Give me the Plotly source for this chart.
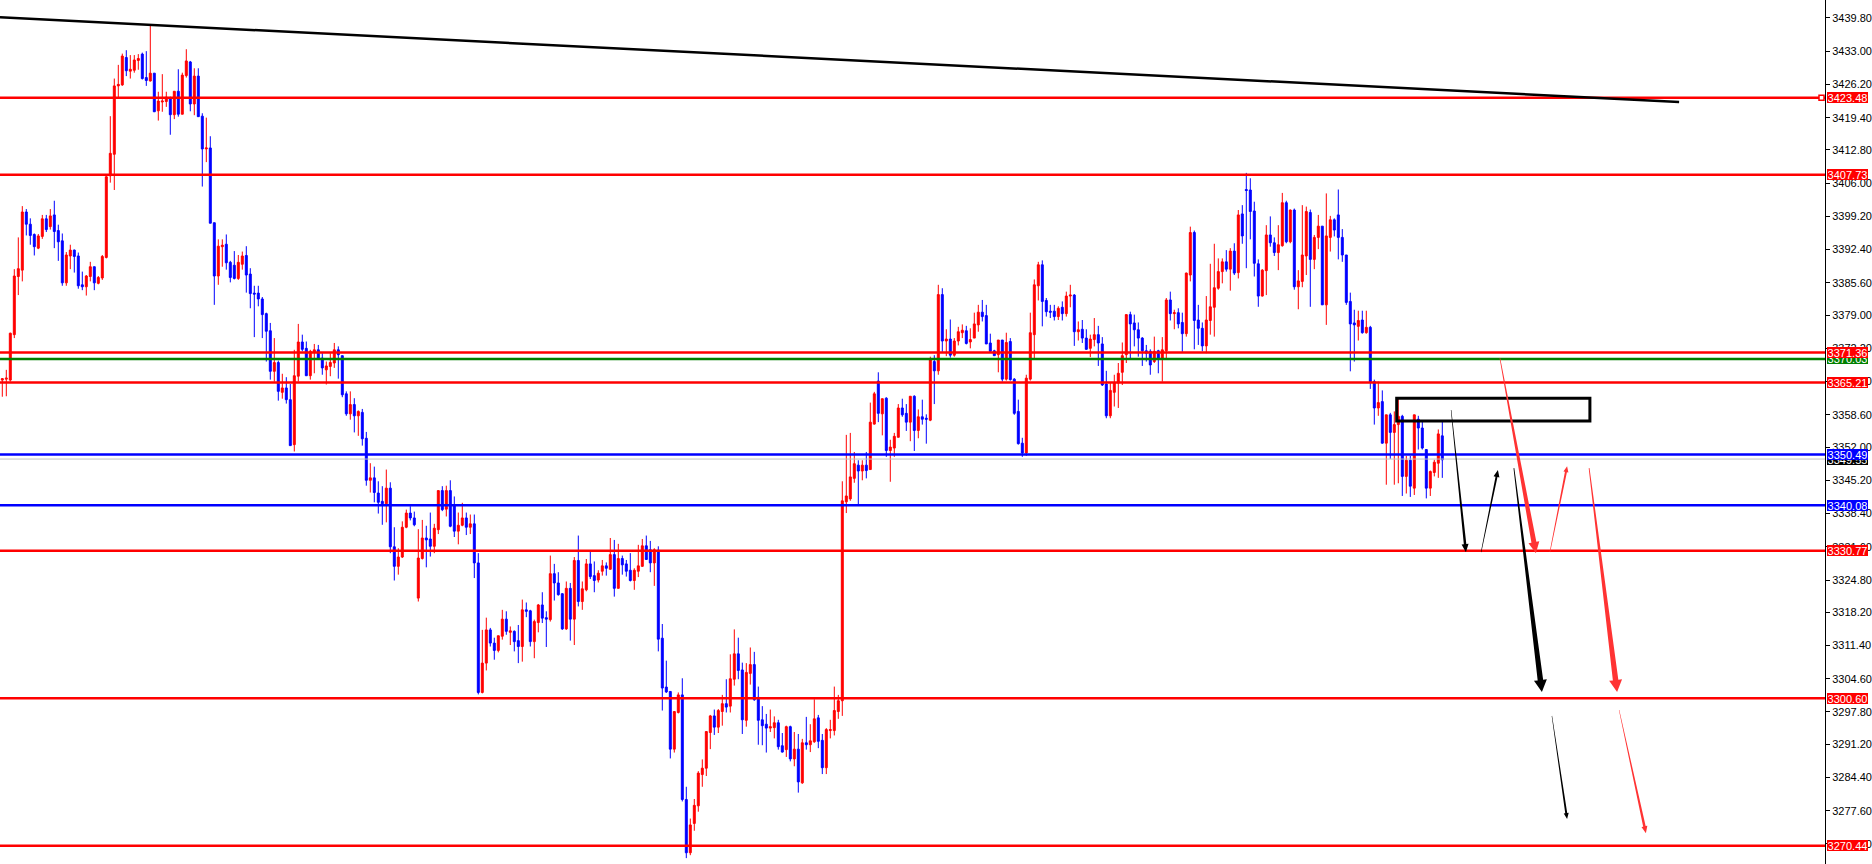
import math
import plotly.graph_objects as go

# ---------------- data ----------------
opens = [
3365.7,3365.9,3365.7,3375.0,3386.9,3388.2,3400.1,3397.6,3395.5,3392.7,
3395.1,3398.7,3397.1,3399.5,3396.3,3394.2,3385.6,3391.1,3392.3,3391.1,
3385.2,3384.8,3386.9,3388.9,3385.5,3386.6,3390.8,3407.5,3411.9,3425.9,
3426.1,3431.7,3428.9,3429.1,3431.1,3432.4,3427.6,3426.9,3428.5,3420.8,
3422.6,3422.7,3423.5,3420.0,3424.8,3420.1,3428.0,3430.8,3422.2,3427.9,
3419.7,3413.0,3413.2,3397.9,3387.0,3393.0,3393.5,3389.8,3389.2,3386.5,
3389.4,3391.2,3387.4,3383.5,3383.5,3382.3,3379.3,3375.8,3367.5,3369.3,
3363.2,3364.1,3361.7,3352.5,3366.5,3373.5,3372.2,3366.6,3371.4,3371.9,
3370.2,3367.8,3368.5,3369.2,3371.9,3370.7,3362.9,3358.8,3360.7,3358.4,
3359.1,3353.8,3345.2,3345.7,3342.6,3340.9,3340.4,3343.6,3331.6,3327.6,
3329.5,3335.6,3338.5,3337.5,3321.1,3329.2,3333.4,3333.2,3331.7,3335.1,
3343.1,3339.3,3343.1,3340.0,3334.8,3336.0,3337.5,3335.6,3336.3,3328.3,
3301.8,3307.8,3314.6,3311.9,3310.4,3313.3,3316.8,3314.1,3314.3,3312.4,
3311.2,3318.7,3318.5,3312.2,3316.1,3319.7,3317.1,3316.7,3326.1,3324.2,
3322.0,3314.8,3323.1,3316.8,3328.8,3320.4,3322.8,3328.1,3325.7,3324.8,
3326.6,3327.7,3327.0,3330.0,3323.1,3329.2,3328.1,3326.8,3324.7,3326.6,
3327.6,3331.8,3331.0,3328.3,3330.9,3312.9,3302.9,3302.0,3290.2,3297.7,
3301.3,3279.9,3269.0,3275.0,3278.6,3285.0,3286.3,3293.6,3297.0,3294.7,
3297.9,3299.5,3299.0,3304.5,3309.7,3306.4,3296.1,3305.7,3307.5,3300.8,
3296.2,3295.3,3294.5,3294.6,3295.6,3290.9,3290.1,3294.8,3288.2,3290.2,
3283.3,3291.5,3291.1,3291.7,3296.6,3292.0,3286.4,3294.0,3294.0,3297.9,
3300.1,3340.8,3341.4,3345.6,3348.3,3347.1,3348.3,3347.4,3356.7,3365.5,
3358.8,3362.0,3351.3,3351.8,3354.0,3360.0,3358.9,3357.1,3362.4,3355.4,
3358.2,3357.9,3357.5,3369.5,3367.6,3383.2,3373.7,3374.1,3370.8,3373.7,
3375.4,3375.8,3373.5,3374.3,3377.0,3379.6,3378.9,3373.3,3371.7,3370.9,
3373.9,3365.9,3373.6,3365.9,3359.3,3352.8,3350.8,3365.9,3375.0,3385.0,
3389.3,3382.0,3379.8,3379.8,3378.7,3380.6,3379.3,3382.9,3383.1,3375.6,
3376.1,3374.3,3372.2,3374.0,3375.0,3373.1,3364.9,3358.4,3363.2,3365.1,
3367.3,3370.9,3379.1,3377.4,3376.0,3374.3,3371.7,3371.6,3369.5,3371.7,
3370.2,3371.7,3382.1,3379.3,3379.5,3377.5,3375.2,3387.2,3395.9,3378.0,
3376.3,3372.7,3377.9,3380.6,3384.5,3387.9,3389.9,3388.4,3392.1,3387.7,
3399.7,3404.7,3404.6,3400.3,3389.5,3382.9,3388.1,3395.4,3393.8,3391.8,
3393.2,3402.0,3394.0,3400.5,3384.8,3385.9,3391.1,3400.0,3390.4,3394.9,
3397.2,3381.1,3394.9,3398.5,3399.5,3394.9,3391.3,3381.8,3377.4,3376.7,
3378.0,3375.4,3376.5,3365.4,3360.0,3361.3,3352.8,3358.6,3355.0,3356.6,
3358.3,3346.0,3349.3,3343.6,3357.7,3355.9,3351.5,3343.6,3346.8,3348.7,
3354.3]

highs = [
3366.1,3367.8,3375.4,3388.4,3394.9,3401.3,3400.7,3398.8,3395.7,3395.6,
3399.5,3399.5,3400.7,3402.4,3397.5,3395.7,3391.9,3393.4,3392.4,3391.8,
3387.9,3387.2,3389.9,3388.9,3387.0,3391.3,3407.5,3419.7,3427.4,3430.2,
3432.5,3433.2,3432.2,3432.2,3432.4,3432.7,3433.0,3438.2,3428.5,3424.7,
3428.3,3424.7,3423.7,3424.8,3429.3,3428.6,3433.4,3431.0,3429.5,3429.5,
3420.3,3419.4,3415.6,3397.9,3394.5,3394.5,3395.5,3390.1,3392.1,3391.3,
3392.0,3393.1,3388.6,3385.0,3385.0,3382.7,3379.5,3377.4,3374.3,3369.7,
3367.0,3366.3,3364.9,3371.9,3377.2,3375.0,3373.6,3371.9,3373.1,3372.9,
3371.2,3369.5,3371.2,3373.3,3372.6,3370.7,3363.4,3363.4,3362.0,3359.5,
3359.8,3355.1,3348.7,3348.0,3345.0,3344.0,3347.4,3344.8,3335.6,3331.3,
3336.8,3339.2,3339.9,3338.8,3335.2,3337.1,3335.9,3338.6,3336.3,3343.1,
3344.0,3344.1,3345.2,3341.9,3338.6,3340.6,3338.6,3338.2,3338.2,3330.3,
3314.6,3317.1,3315.0,3313.0,3313.4,3318.7,3318.4,3315.3,3314.5,3315.6,
3320.8,3320.2,3318.7,3316.7,3319.9,3322.3,3318.4,3329.8,3328.1,3326.4,
3322.1,3324.5,3324.2,3329.5,3333.9,3324.5,3329.1,3330.7,3328.6,3326.8,
3328.9,3328.4,3333.4,3333.0,3332.2,3329.8,3328.9,3330.3,3327.2,3332.0,
3333.2,3333.9,3332.8,3331.3,3331.7,3315.8,3308.3,3302.0,3297.9,3301.8,
3304.7,3282.5,3276.0,3280.0,3285.7,3288.1,3293.8,3297.2,3298.3,3298.4,
3301.3,3304.5,3309.6,3314.7,3313.0,3307.9,3307.8,3311.0,3310.1,3303.0,
3299.0,3297.4,3298.3,3296.9,3296.2,3293.5,3295.0,3295.0,3293.7,3293.3,
3292.3,3296.8,3295.3,3300.4,3297.2,3293.3,3294.5,3296.2,3303.0,3301.3,
3345.0,3354.5,3354.9,3351.0,3349.3,3349.3,3351.0,3361.1,3363.3,3367.3,
3361.9,3362.2,3353.5,3354.9,3360.8,3361.9,3360.8,3362.4,3362.6,3359.7,
3361.7,3358.7,3370.5,3370.8,3385.2,3384.5,3376.1,3378.1,3374.3,3376.6,
3377.1,3376.8,3376.3,3379.5,3381.1,3382.1,3381.1,3375.2,3371.9,3373.9,
3373.9,3375.4,3374.3,3366.1,3361.7,3353.9,3366.8,3379.5,3386.3,3389.9,
3390.2,3382.5,3381.1,3381.1,3380.8,3381.8,3383.8,3385.2,3383.3,3377.7,
3378.0,3376.1,3375.0,3378.4,3376.8,3374.5,3367.6,3365.1,3366.8,3369.2,
3373.4,3379.1,3379.7,3379.1,3377.5,3374.5,3372.9,3372.0,3374.6,3371.9,
3374.5,3382.5,3383.8,3380.1,3380.4,3379.5,3387.7,3397.1,3396.3,3381.1,
3377.5,3382.9,3389.5,3393.6,3390.6,3390.6,3392.3,3392.7,3393.7,3400.5,
3401.5,3408.1,3407.0,3402.2,3390.4,3388.4,3397.4,3399.2,3394.9,3397.4,
3404.0,3402.4,3400.6,3400.8,3388.2,3401.5,3401.2,3400.6,3395.4,3399.5,
3397.2,3403.9,3399.3,3398.8,3404.7,3396.6,3391.3,3383.6,3380.1,3379.9,
3379.9,3379.9,3376.8,3365.8,3365.4,3363.6,3358.6,3359.0,3359.3,3362.0,
3358.6,3350.2,3350.2,3358.6,3358.4,3357.3,3351.6,3347.2,3349.4,3355.6,
3357.3]

lows = [
3362.3,3362.4,3365.4,3374.3,3383.1,3385.9,3395.3,3393.4,3391.2,3392.5,
3394.6,3396.0,3396.5,3392.7,3390.1,3385.0,3385.0,3388.4,3387.7,3384.4,
3384.1,3383.0,3385.9,3384.1,3385.3,3386.2,3390.6,3406.1,3404.6,3423.5,
3425.9,3427.9,3427.4,3428.6,3429.2,3427.2,3425.9,3426.8,3420.6,3418.8,
3420.6,3421.6,3415.9,3419.1,3419.6,3420.1,3427.6,3420.7,3419.9,3419.6,
3405.3,3410.3,3397.8,3381.1,3385.2,3388.9,3388.3,3385.7,3386.3,3386.2,
3388.3,3383.6,3380.4,3374.5,3380.8,3374.3,3369.5,3365.8,3365.4,3361.5,
3361.9,3360.9,3352.3,3351.1,3365.4,3371.6,3366.6,3365.8,3367.1,3369.9,
3366.8,3364.8,3366.5,3368.2,3366.0,3362.2,3358.4,3357.6,3355.0,3354.3,
3352.3,3344.1,3342.7,3340.7,3338.4,3336.1,3336.6,3330.3,3324.7,3325.9,
3329.3,3335.4,3337.0,3335.8,3320.4,3329.0,3327.4,3329.6,3330.3,3334.2,
3338.9,3337.8,3335.6,3333.6,3332.1,3335.8,3334.0,3334.2,3325.2,3301.4,
3301.6,3306.3,3311.2,3308.5,3310.0,3312.6,3313.6,3311.5,3310.2,3307.8,
3308.1,3317.2,3311.2,3308.8,3314.1,3316.0,3311.1,3316.3,3320.6,3321.6,
3314.6,3314.6,3312.4,3311.5,3319.4,3318.7,3322.5,3325.0,3322.3,3324.3,
3325.7,3325.7,3326.9,3321.4,3323.1,3325.9,3325.5,3324.5,3322.8,3325.4,
3327.5,3329.0,3326.4,3323.6,3310.2,3298.1,3301.7,3288.3,3289.5,3297.5,
3279.5,3267.9,3268.5,3273.5,3277.4,3282.5,3284.7,3290.2,3293.1,3293.5,
3295.0,3297.7,3297.7,3303.2,3304.5,3293.3,3294.8,3303.4,3300.1,3291.1,
3291.0,3289.5,3293.7,3292.4,3290.1,3289.5,3288.6,3287.7,3286.7,3281.3,
3283.1,3290.1,3289.6,3291.5,3290.4,3285.1,3285.1,3292.4,3293.0,3296.4,
3297.0,3338.5,3341.0,3344.7,3340.1,3345.2,3345.6,3347.4,3356.6,3357.1,
3354.4,3350.0,3344.9,3350.0,3354.0,3358.2,3355.3,3353.2,3351.2,3353.8,
3356.6,3352.7,3357.3,3360.8,3366.8,3371.5,3370.6,3370.3,3370.5,3372.8,
3374.3,3373.0,3372.2,3374.3,3375.6,3377.7,3373.1,3371.4,3370.7,3367.3,
3365.4,3365.6,3365.6,3358.6,3352.5,3350.0,3350.2,3365.6,3370.0,3382.0,
3376.7,3378.7,3378.4,3377.9,3378.0,3377.9,3378.7,3380.6,3372.7,3373.8,
3373.3,3371.9,3370.4,3372.6,3368.6,3364.5,3357.9,3357.9,3360.3,3360.0,
3364.7,3369.2,3370.2,3372.6,3370.5,3368.6,3369.5,3366.8,3369.2,3367.1,
3365.4,3370.0,3377.9,3376.1,3376.3,3371.5,3374.6,3385.9,3372.0,3372.9,
3371.6,3371.2,3375.0,3374.6,3384.2,3385.5,3387.9,3384.0,3387.2,3386.5,
3393.6,3388.6,3394.5,3386.9,3380.7,3382.8,3383.1,3393.0,3391.1,3388.2,
3393.0,3393.7,3393.7,3384.2,3380.2,3384.7,3387.2,3380.7,3388.4,3392.5,
3381.1,3377.0,3392.0,3395.1,3390.4,3389.9,3381.1,3367.5,3369.5,3373.8,
3375.2,3375.2,3363.9,3356.6,3358.4,3352.7,3344.3,3349.6,3344.3,3344.6,
3342.0,3342.5,3341.8,3342.2,3351.5,3351.5,3341.5,3342.0,3346.0,3345.7,
3345.7]

closes = [
3366.0,3366.1,3375.3,3387.0,3388.5,3400.1,3397.6,3395.3,3393.0,3395.2,
3398.7,3396.5,3399.3,3396.1,3394.0,3385.6,3391.3,3392.3,3391.0,3385.0,
3384.8,3387.0,3388.9,3385.6,3386.7,3391.0,3407.3,3412.1,3425.9,3426.2,
3432.0,3429.0,3429.3,3431.2,3431.5,3427.4,3427.0,3428.5,3420.6,3422.8,
3422.8,3423.6,3420.0,3424.8,3420.1,3428.1,3431.0,3422.2,3427.9,3419.6,
3413.0,3413.2,3397.8,3387.0,3393.1,3393.3,3389.7,3386.7,3386.5,3389.8,
3391.1,3387.2,3383.4,3383.3,3382.3,3379.1,3375.7,3367.5,3369.3,3363.4,
3364.1,3361.7,3352.3,3366.6,3373.5,3372.0,3366.6,3371.6,3371.9,3370.0,
3368.2,3368.6,3369.3,3371.9,3370.9,3362.7,3358.8,3360.7,3358.4,3359.3,
3353.7,3345.2,3345.7,3342.7,3340.7,3340.4,3343.6,3331.6,3327.6,3329.5,
3335.6,3338.5,3337.5,3336.1,3329.3,3333.4,3333.0,3331.7,3335.4,3343.1,
3339.2,3343.1,3335.8,3334.8,3336.0,3337.5,3335.6,3336.3,3328.3,3301.8,
3307.8,3314.6,3311.9,3310.4,3313.4,3316.8,3314.3,3314.4,3312.2,3311.2,
3318.7,3318.4,3312.2,3316.3,3319.7,3317.0,3316.8,3326.1,3324.2,3321.8,
3314.8,3323.1,3316.8,3328.8,3320.4,3323.0,3328.1,3325.5,3324.7,3326.2,
3327.7,3327.2,3330.0,3323.1,3329.2,3327.9,3326.6,3324.7,3326.8,3327.7,
3331.8,3329.0,3328.3,3331.0,3312.7,3302.7,3301.9,3290.2,3297.9,3301.3,
3279.9,3269.0,3274.7,3278.7,3285.3,3286.3,3293.8,3297.0,3294.7,3298.1,
3299.5,3298.8,3304.6,3309.7,3306.3,3296.2,3305.9,3307.5,3300.3,3296.1,
3295.0,3294.5,3294.8,3295.6,3290.7,3289.6,3294.8,3288.2,3290.2,3283.5,
3291.5,3291.1,3291.9,3296.4,3291.8,3286.4,3294.2,3294.2,3298.1,3300.1,
3341.0,3342.0,3345.9,3348.6,3347.1,3348.3,3347.2,3357.1,3362.9,3358.9,
3361.9,3351.3,3352.0,3354.2,3360.0,3358.6,3357.1,3362.4,3355.4,3358.2,
3357.7,3357.7,3369.9,3367.6,3383.2,3373.7,3374.1,3370.8,3373.7,3375.6,
3375.9,3373.2,3374.0,3377.2,3379.6,3378.7,3373.1,3371.6,3370.7,3373.9,
3365.9,3373.4,3365.8,3358.9,3352.7,3350.8,3366.1,3375.4,3385.2,3389.3,
3381.8,3379.7,3379.6,3378.7,3380.4,3379.3,3382.9,3383.1,3375.6,3376.0,
3374.3,3372.0,3374.1,3375.0,3373.3,3364.7,3358.4,3363.6,3365.2,3367.1,
3370.7,3379.1,3377.2,3376.0,3374.3,3371.7,3371.2,3368.8,3371.6,3370.2,
3371.9,3382.1,3379.3,3379.5,3377.2,3375.2,3387.6,3395.9,3377.9,3376.3,
3372.7,3378.0,3380.7,3384.6,3387.9,3389.9,3388.4,3392.1,3387.6,3399.5,
3395.2,3404.5,3400.2,3389.6,3382.9,3388.2,3395.4,3393.8,3391.8,3393.4,
3402.0,3394.0,3400.5,3384.8,3386.0,3391.3,3400.2,3390.4,3394.9,3397.2,
3381.1,3395.2,3398.5,3396.4,3394.9,3391.3,3381.6,3377.2,3377.0,3377.9,
3375.4,3376.5,3365.4,3360.0,3361.1,3352.8,3358.6,3355.0,3356.6,3358.3,
3346.0,3349.3,3344.0,3358.6,3355.9,3351.8,3343.6,3347.0,3348.9,3354.7,
3349.4]

bar_index = list(range(len(opens)))

# horizontal price levels (drawn in this order; later ones on top)
level_prices = [3423.48, 3407.73, 3370.03, 3371.36, 3365.21, 3349.55, 3350.49, 3340.08, 3330.77, 3300.60, 3270.44]
level_colors = ["#ff0000", "#ff0000", "#008000", "#ff0000", "#ff0000", "#000000", "#0000ff", "#0000ff", "#ff0000", "#ff0000", "#ff0000"]
level_line_colors = ["#ff0000", "#ff0000", "#008000", "#ff0000", "#ff0000", "#c0c0c0", "#0000ff", "#0000ff", "#ff0000", "#ff0000", "#ff0000"]
level_widths = [2.5, 2.5, 2.5, 2.5, 2.5, 1, 2.5, 2.5, 2.5, 2.5, 2.5]

tick_values = [3439.80, 3433.00, 3426.20, 3419.40, 3412.80, 3406.00, 3399.20, 3392.40, 3385.60,
               3379.00, 3372.20, 3365.40, 3358.60, 3352.00, 3345.20, 3338.40, 3331.60, 3324.80,
               3318.20, 3311.40, 3304.60, 3297.80, 3291.20, 3284.40, 3277.60, 3270.80]
tick_labels = [f"{v:.2f}" for v in tick_values]

# trend line (bar index, price)
trend_x = [-0.575, 419.2]
trend_y = [3439.93, 3422.60]

# box drawn around the recent range
box_x = [348.6, 396.9]
box_y = [3357.33, 3361.98]

# projection arrows: start / tip in (bar index, price), colour, widths in px
arrow_start_x = [362.2, 369.7, 374.4, 386.9, 377.9, 396.7, 387.4, 404.2]
arrow_start_y = [3359.6, 3330.5, 3370.2, 3330.5, 3347.7, 3347.7, 3297.0, 3298.2]
arrow_tip_x = [365.9, 373.9, 383.4, 391.2, 384.9, 403.7, 391.2, 410.9]
arrow_tip_y = [3330.5, 3347.3, 3330.3, 3348.1, 3301.9, 3301.9, 3275.9, 3273.0]
arrow_colors = ["#000000", "#000000", "#ff3333", "#ff3333", "#000000", "#ff3333", "#000000", "#ff3333"]
arrow_w_start = [0.5, 0.5, 0.6, 0.5, 0.8, 0.8, 0.4, 0.4]
arrow_w_end = [2.5, 2.0, 5.0, 2.0, 5.5, 5.5, 2.0, 2.5]
arrow_head_w = [7, 6, 11, 5, 13, 13, 5, 6]
arrow_head_l = [8, 7, 11, 6, 12, 12, 6, 7]

# ---------------- layout geometry ----------------
W_TOTAL, H_TOTAL = 1872, 864
M_R = 47
PW, PH = W_TOTAL - M_R, H_TOTAL
x_range = [-0.575, 455.675]
y_range = [3266.70, 3443.47]


def to_px(xv, yv):
    return ((xv - x_range[0]) / (x_range[1] - x_range[0]) * PW,
            (y_range[1] - yv) / (y_range[1] - y_range[0]) * PH)


def to_data(px, py):
    return (x_range[0] + px / PW * (x_range[1] - x_range[0]),
            y_range[1] - py / PH * (y_range[1] - y_range[0]))


fig = go.Figure()
fig.add_trace(go.Candlestick(
    x=bar_index, open=opens, high=highs, low=lows, close=closes,
    increasing=dict(line=dict(color="#ff0000", width=1), fillcolor="#ff0000"),
    decreasing=dict(line=dict(color="#0000ff", width=1), fillcolor="#0000ff"),
    whiskerwidth=0, hoverinfo="skip", showlegend=False,
))

shapes = []
for p, c, w in zip(level_prices, level_line_colors, level_widths):
    shapes.append(dict(type="line", xref="paper", x0=0, x1=1, yref="y", y0=p, y1=p,
                       line=dict(color=c, width=w), layer="above"))

shapes.append(dict(type="line", xref="x", yref="y", x0=trend_x[0], y0=trend_y[0],
                   x1=trend_x[1], y1=trend_y[1], line=dict(color="#000000", width=2.5), layer="above"))

shapes.append(dict(type="rect", xref="x", yref="y", x0=box_x[0], x1=box_x[1], y0=box_y[0], y1=box_y[1],
                   line=dict(color="#000000", width=3), fillcolor="rgba(0,0,0,0)", layer="above"))

for k in range(len(arrow_start_x)):
    sx, sy = to_px(arrow_start_x[k], arrow_start_y[k])
    tx, ty = to_px(arrow_tip_x[k], arrow_tip_y[k])
    dx, dy = tx - sx, ty - sy
    ln = math.hypot(dx, dy)
    ux, uy = dx / ln, dy / ln
    nx, ny = -uy, ux
    hl = arrow_head_l[k]
    bx, by = tx - ux * hl, ty - uy * hl
    w0, w1, hw = arrow_w_start[k] / 2, arrow_w_end[k] / 2, arrow_head_w[k] / 2
    pts = [(sx + nx * w0, sy + ny * w0), (bx + nx * w1, by + ny * w1), (bx + nx * hw, by + ny * hw),
           (tx, ty), (bx - nx * hw, by - ny * hw), (bx - nx * w1, by - ny * w1), (sx - nx * w0, sy - ny * w0)]
    dpts = [to_data(a, b) for a, b in pts]
    path = "M " + " L ".join(f"{a:.4f},{b:.4f}" for a, b in dpts) + " Z"
    shapes.append(dict(type="path", xref="x", yref="y", path=path, fillcolor=arrow_colors[k],
                       line=dict(width=0), layer="above"))

# little square marker on the top level
shapes.append(dict(type="rect", xref="paper", yref="y", x0=(PW - 6) / PW, x1=(PW - 1) / PW,
                   y0=level_prices[0] - 0.5, y1=level_prices[0] + 0.5,
                   line=dict(color="#ff0000", width=1.5), fillcolor="#ffffff", layer="above"))

FONT = "Liberation Sans Narrow, Arial Narrow, Liberation Sans, Arial, sans-serif"

annotations = []
for p, c in zip(level_prices, level_colors):
    annotations.append(dict(xref="paper", x=1, xanchor="left", xshift=2, yref="y", y=p, yanchor="middle",
                            text=f"{p:.2f}", showarrow=False, bgcolor=c, borderpad=1, borderwidth=0,
                            width=39, height=9, font=dict(family=FONT, size=11, color="#ffffff")))

fig.update_layout(
    width=W_TOTAL, height=H_TOTAL,
    margin=dict(l=0, r=M_R, t=0, b=0),
    paper_bgcolor="#ffffff", plot_bgcolor="#ffffff",
    showlegend=False,
    shapes=shapes, annotations=annotations,
    xaxis=dict(range=x_range, visible=False, rangeslider=dict(visible=False), fixedrange=True),
    yaxis=dict(range=y_range, side="right", showgrid=False, zeroline=False,
               tickmode="array", tickvals=tick_values, ticktext=tick_labels,
               ticks="outside", ticklen=4, tickcolor="#000000", tickwidth=1,
               showline=True, linecolor="#000000", linewidth=1,
               tickfont=dict(family=FONT, size=11, color="#000000"), fixedrange=True),
    font=dict(family=FONT),
)

fig.write_html("out.html", config={"displayModeBar": False},
               post_script="document.body.style.margin='0';document.body.style.overflow='hidden';")
